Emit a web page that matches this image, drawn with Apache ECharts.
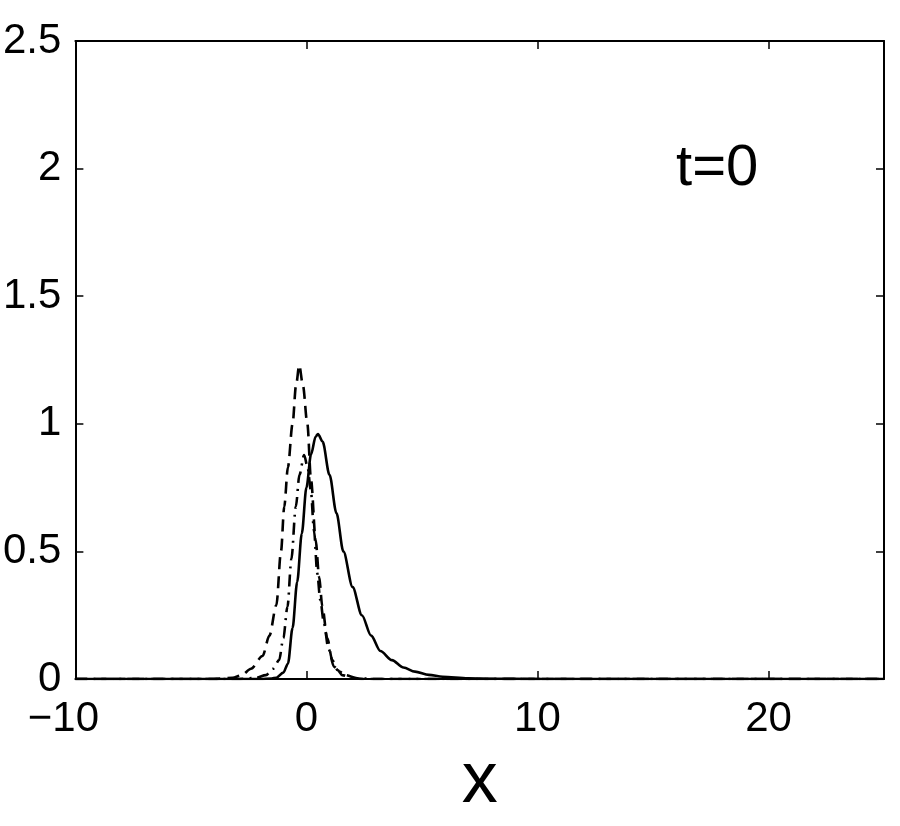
<!DOCTYPE html>
<html>
<head>
<meta charset="utf-8">
<script src="https://cdn.jsdelivr.net/npm/echarts@6/dist/echarts.min.js"></script>
<style>html,body{margin:0;padding:0;background:#fff}#c{width:900px;height:826px}</style>
</head>
<body>
<div id="c"></div>
<script>
// Solid curve
const solidX = [-10, -2, -1.5, -1.3, -1.0, -0.8, -0.6, -0.4, -0.2, 0.0, 0.2, 0.4, 0.5, 0.7, 1.0, 1.3, 1.6, 2.0, 2.4, 2.8, 3.2, 3.7, 4.2, 4.7, 5.3, 5.9, 7, 8, 10, 25];
const solidY = [0, 0, 0.002, 0.005, 0.025, 0.06, 0.2, 0.38, 0.57, 0.75, 0.88, 0.95, 0.96, 0.93, 0.8, 0.65, 0.5, 0.36, 0.25, 0.17, 0.11, 0.074, 0.045, 0.029, 0.016, 0.009, 0.003, 0.001, 0, 0];
// Dashed curve
const dashX = [-10, -4, -3.2, -2.8, -2.4, -1.9, -1.6, -1.3, -1.1, -0.96, -0.8, -0.6, -0.45, -0.31, -0.15, 0.04, 0.2, 0.4, 0.55, 0.69, 0.9, 1.12, 1.35, 1.55, 2.0, 2.5, 25];
const dashY = [0, 0, 0.005, 0.015, 0.04, 0.09, 0.17, 0.29, 0.5, 0.675, 0.83, 1.0, 1.15, 1.23, 1.15, 1.0, 0.78, 0.545, 0.4, 0.283, 0.16, 0.074, 0.035, 0.015, 0.003, 0, 0];
// Dash-dot curve
const dotX = [-10, -3, -2.2, -1.75, -1.45, -1.18, -1.0, -0.82, -0.65, -0.46, -0.3, -0.1, 0.05, 0.19, 0.33, 0.47, 0.6, 0.76, 0.95, 1.19, 1.45, 1.69, 2.2, 3, 25];
const dotY = [0, 0, 0.004, 0.015, 0.04, 0.074, 0.16, 0.283, 0.47, 0.675, 0.8, 0.878, 0.83, 0.74, 0.58, 0.414, 0.31, 0.218, 0.12, 0.048, 0.028, 0.015, 0.003, 0, 0];

const xTicks = [-10, 0, 10, 20];
const yTicks = [0, 0.5, 1, 1.5, 2, 2.5];
const annotText = 't=0';
const annotPos = [16, 2];
const xName = 'x';

const FONT = 'Liberation Sans';
const zip = (xs, ys) => xs.map((x, i) => [x, ys[i]]);

const chart = echarts.init(document.getElementById('c'), null, {renderer: 'canvas'});
const axisLine = {show: true, onZero: false, lineStyle: {color: '#000', width: 2}};
const axisTick = {show: true, inside: true, length: 8, lineStyle: {color: '#000', width: 1.5}};

chart.setOption({
  animation: false,
  backgroundColor: '#fff',
  grid: {left: 72, right: 16, top: 41, bottom: 147, containLabel: false},
  xAxis: [{
    type: 'value', min: -10, max: 25, interval: 10, position: 'bottom',
    axisLine, axisTick, splitLine: {show: false},
    name: xName, nameLocation: 'middle', nameGap: 67,
    nameTextStyle: {fontFamily: FONT, fontSize: 72, color: '#000'},
    axisLabel: {
      fontFamily: FONT, fontSize: 42, color: '#000', margin: 19,
      showMaxLabel: false,
      formatter: v => xTicks.includes(v) ? (v < 0 ? '{n|\u2212' + Math.abs(v) + '}' : String(v)) : '',
      rich: {n: {fontFamily: FONT, fontSize: 42, color: '#000', padding: [0, 24, 0, 0]}}
    }
  }, {
    type: 'value', min: -10, max: 25, interval: 10, position: 'top',
    axisLine, axisTick, axisLabel: {show: false}, splitLine: {show: false}
  }],
  yAxis: [{
    type: 'value', min: 0, max: 2.5, interval: 0.5, position: 'left',
    axisLine, axisTick, splitLine: {show: false},
    axisLabel: {
      fontFamily: FONT, fontSize: 42, color: '#000', margin: 14,
      formatter: v => yTicks.includes(v) ? String(v) : ''
    }
  }, {
    type: 'value', min: 0, max: 2.5, interval: 0.5, position: 'right',
    axisLine, axisTick, axisLabel: {show: false}, splitLine: {show: false}
  }],
  series: [
    {type: 'line', data: zip(solidX, solidY), showSymbol: false, smooth: 0.3, smoothMonotone: 'x',
     lineStyle: {color: '#000', width: 2.6, type: 'solid'}},
    {type: 'line', data: zip(dashX, dashY), showSymbol: false, smooth: 0.3, smoothMonotone: 'x',
     lineStyle: {color: '#000', width: 2.6, type: [12, 7]}},
    {type: 'line', data: zip(dotX, dotY), showSymbol: false, smooth: 0.3, smoothMonotone: 'x',
     lineStyle: {color: '#000', width: 2.6, type: [12, 6, 2, 6]}}
  ]
});

const p = chart.convertToPixel({xAxisIndex: 0, yAxisIndex: 0}, annotPos);
chart.setOption({
  graphic: [{
    type: 'text', x: p[0], y: p[1], silent: true,
    style: {text: annotText, fill: '#000', fontFamily: FONT, fontSize: 58,
            align: 'left', verticalAlign: 'middle'}
  }]
});
</script>
</body>
</html>
